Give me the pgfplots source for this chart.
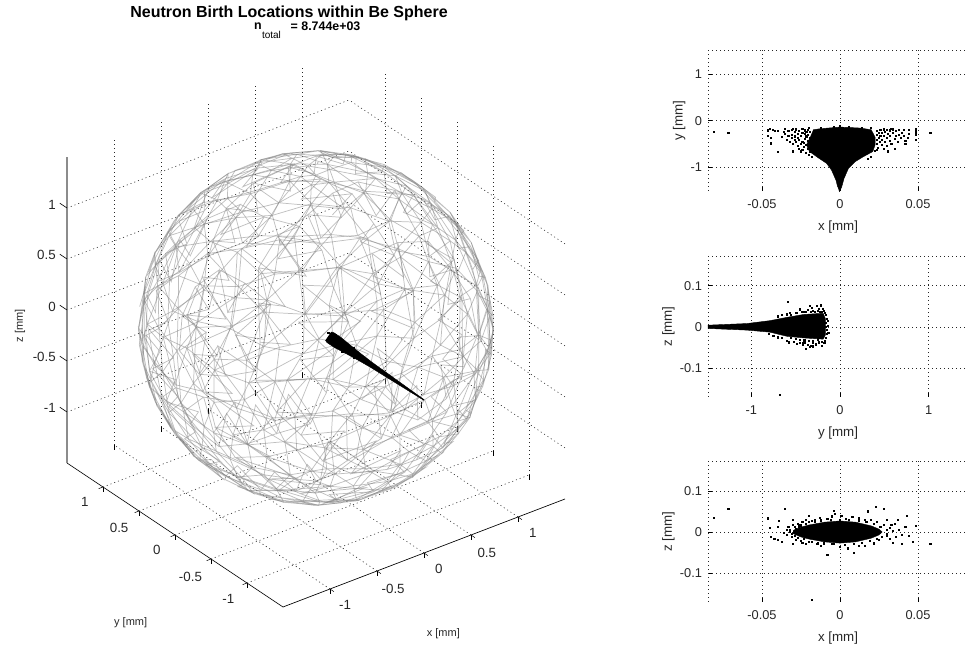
\documentclass[border=0pt]{standalone}
\usepackage{pgfplots}
\usepackage{pgfplotstable}
\usepackage{fontspec}
\setmainfont{Liberation Sans}
\pgfplotsset{compat=1.18}
\pgfplotstableset{row sep=\\,header=false}
\pgfplotstableread{0 90\\5 84\\0 90\\75 83\\0 90\\150 85\\0 90\\218 84\\0 90\\290 83\\5 84\\75 83\\150 85\\218 84\\290 83\\}\Tcap
\pgfplotstableread{5 84\\334 70\\5 84\\10 73\\5 84\\46 71\\75 83\\80 73\\75 83\\118 74\\150 85\\155 71\\150 85\\190 72\\218 84\\226 74\\218 84\\262 71\\290 83\\298 73\\290 83\\334 70\\10 73\\46 71\\80 73\\118 74\\155 71\\190 72\\226 74\\262 71\\298 73\\334 70\\}\Tone
\pgfplotstableread{2 60\\10 73\\27 62\\46 71\\50 58\\75 61\\80 73\\98 62\\118 74\\122 58\\147 60\\155 71\\170 62\\190 72\\195 58\\218 61\\226 74\\243 62\\262 71\\266 58\\290 60\\298 73\\315 62\\334 70\\338 58\\2 60\\27 62\\50 58\\75 61\\98 62\\122 58\\147 60\\170 62\\195 58\\218 61\\243 62\\266 58\\290 60\\315 62\\338 58\\2 60\\}\Ttwo
\pgfplotstableread{8 47\\27 62\\27 50\\50 58\\44 46\\62 49\\75 61\\81 50\\98 62\\98 46\\122 58\\116 48\\135 50\\147 60\\152 46\\170 62\\170 48\\195 58\\189 50\\206 46\\218 61\\224 49\\243 62\\243 50\\266 58\\260 46\\278 48\\290 60\\297 50\\315 62\\314 46\\338 58\\332 49\\351 47\\2 60\\8 47\\27 50\\44 46\\62 49\\81 50\\98 46\\116 48\\135 50\\152 46\\170 48\\189 50\\206 46\\224 49\\243 50\\260 46\\278 48\\297 50\\314 46\\332 49\\351 47\\8 47\\}\Tthree
\pgfplotstableread{3 36\\8 47\\18 38\\27 50\\32 34\\44 46\\48 37\\62 49\\63 38\\81 50\\78 34\\92 36\\98 46\\108 38\\116 48\\123 35\\135 50\\138 34\\152 46\\152 37\\170 48\\168 38\\183 34\\189 50\\198 36\\206 46\\212 38\\224 49\\228 35\\243 50\\243 34\\260 46\\258 37\\272 38\\278 48\\288 34\\297 50\\303 36\\314 46\\318 38\\332 49\\332 35\\351 47\\347 34\\3 36\\18 38\\32 34\\48 37\\63 38\\78 34\\92 36\\108 38\\123 35\\138 34\\152 37\\168 38\\183 34\\198 36\\212 38\\228 35\\243 34\\258 37\\272 38\\288 34\\303 36\\318 38\\332 35\\347 34\\3 36\\}\Tfour
\pgfplotstableread{3 36\\7 24\\18 38\\20 26\\32 34\\35 22\\48 37\\48 25\\63 38\\62 26\\78 34\\76 22\\92 36\\90 24\\108 38\\103 26\\123 35\\117 23\\131 22\\138 34\\145 25\\152 37\\159 26\\168 38\\172 22\\183 34\\186 24\\198 36\\200 26\\212 38\\214 23\\228 35\\228 22\\243 34\\241 25\\258 37\\255 26\\272 38\\269 22\\288 34\\283 24\\303 36\\297 26\\311 23\\318 38\\324 22\\332 35\\338 25\\347 34\\352 26\\7 24\\20 26\\35 22\\48 25\\62 26\\76 22\\90 24\\103 26\\117 23\\131 22\\145 25\\159 26\\172 22\\186 24\\200 26\\214 23\\228 22\\241 25\\255 26\\269 22\\283 24\\297 26\\311 23\\324 22\\338 25\\352 26\\7 24\\}\Tfive
\pgfplotstableread{2 12\\7 24\\15 14\\20 26\\28 10\\35 22\\41 13\\48 25\\54 14\\62 26\\67 10\\76 22\\80 12\\90 24\\93 14\\103 26\\106 11\\117 23\\119 10\\131 22\\132 13\\145 25\\145 14\\159 26\\158 10\\172 22\\171 12\\186 24\\184 14\\200 26\\197 11\\214 23\\210 10\\228 22\\223 13\\241 25\\236 14\\255 26\\249 10\\269 22\\262 12\\275 14\\283 24\\288 11\\297 26\\301 10\\311 23\\314 13\\324 22\\327 14\\338 25\\340 10\\352 26\\353 12\\2 12\\15 14\\28 10\\41 13\\54 14\\67 10\\80 12\\93 14\\106 11\\119 10\\132 13\\145 14\\158 10\\171 12\\184 14\\197 11\\210 10\\223 13\\236 14\\249 10\\262 12\\275 14\\288 11\\301 10\\314 13\\327 14\\340 10\\353 12\\}\Tsix
\pgfplotstableread{0 0\\2 12\\13 1\\15 14\\26 -1\\28 10\\39 2\\41 13\\51 0\\54 14\\64 -2\\67 10\\77 1\\80 12\\90 0\\93 14\\103 -1\\106 11\\116 2\\119 10\\129 0\\132 13\\141 -2\\145 14\\154 1\\158 10\\167 0\\171 12\\180 -1\\184 14\\193 2\\197 11\\206 0\\210 10\\219 -2\\223 13\\231 1\\236 14\\244 0\\249 10\\257 -1\\262 12\\270 2\\275 14\\283 0\\288 11\\296 -2\\301 10\\309 1\\314 13\\321 0\\327 14\\334 -1\\340 10\\347 2\\353 12\\0 0\\13 1\\26 -1\\39 2\\51 0\\64 -2\\77 1\\90 0\\103 -1\\116 2\\129 0\\141 -2\\154 1\\167 0\\180 -1\\193 2\\206 0\\219 -2\\231 1\\244 0\\257 -1\\270 2\\283 0\\296 -2\\309 1\\321 0\\334 -1\\347 2\\0 0\\}\Tseven
\tikzset{gridl/.style={black!85,line width=0.42pt,dash pattern=on 0.8pt off 2.2pt}}
\pgfplotsset{
  meshl/.style={black!50,opacity=0.5,line width=0.55pt,no marks,forget plot},
  small2d/.style={scale only axis,width=195pt,height=105.5pt,anchor=south west,
    axis x line*=bottom,axis y line*=left,axis line style={-},
    x axis line style={draw=none},y axis line style={gridl},
    grid=major,grid style={gridl},clip=false,scaled x ticks=false,scaled y ticks=false,
    tick align=inside,major tick length=3pt,tick style={black,line width=0.4pt},
    tick label style={font=\fontsize{9.6}{12}\selectfont,text=black!85},
    label style={font=\fontsize{10}{12}\selectfont,text=black!85},
    xticklabel style={yshift=-3pt},yticklabel style={xshift=-1pt},
    xlabel style={yshift=-2.5pt},ylabel style={yshift=-3pt},
    /pgf/number format/assume math mode=true},
  pts/.style={only marks,mark=square*,mark size=0.42pt,mark options={black,draw=black,line width=0pt},forget plot},
  blob/.style={fill=black,draw=black,line width=0.3pt,forget plot},
  ztk/.style={black,line width=0.45pt,forget plot}
}
\newcommand\north[1]{\addplot3[meshl] table[x index=0,y index=1,z index=0,x expr={1.5*cos(\thisrowno{1})*cos(\thisrowno{0})},y expr={1.5*cos(\thisrowno{1})*sin(\thisrowno{0})},z expr={1.5*sin(\thisrowno{1})}] {#1};}
\newcommand\south[1]{\addplot3[meshl] table[x index=0,y index=1,z index=0,x expr={1.5*cos(\thisrowno{1})*cos(\thisrowno{0}+64.3)},y expr={1.5*cos(\thisrowno{1})*sin(\thisrowno{0}+64.3)},z expr={-1.5*sin(\thisrowno{1})}] {#1};}
% the same rings of vertices, seen with the pole tilted by 65 degrees
\newcommand\tiltN[1]{\addplot3[meshl] table[x index=0,y index=1,z index=0,x expr={1.5*cos(\thisrowno{1})*cos(\thisrowno{0})},y expr={1.5*(0.4226*cos(\thisrowno{1})*sin(\thisrowno{0})-0.9063*sin(\thisrowno{1}))},z expr={1.5*(0.9063*cos(\thisrowno{1})*sin(\thisrowno{0})+0.4226*sin(\thisrowno{1}))}] {#1};}
\newcommand\tiltS[1]{\addplot3[meshl] table[x index=0,y index=1,z index=0,x expr={1.5*cos(\thisrowno{1})*cos(\thisrowno{0}+31)},y expr={1.5*(0.4226*cos(\thisrowno{1})*sin(\thisrowno{0}+31)+0.9063*sin(\thisrowno{1}))},z expr={1.5*(0.9063*cos(\thisrowno{1})*sin(\thisrowno{0}+31)-0.4226*sin(\thisrowno{1}))}] {#1};}
\begin{document}
\begin{tikzpicture}
\path[use as bounding box] (0,0) rectangle (726pt,484.5pt);
\begin{axis}[at={(237pt,238.5pt)},anchor=origin,
  x={(70.5pt,27pt)},y={(-54pt,36pt)},z={(0pt,76.5pt)},
  xmin=-1.5,xmax=1.5,ymin=-1.5,ymax=1.5,zmin=-1.5,zmax=1.5,
  xtick={-1,-0.5,0,0.5,1},ytick={-1,-0.5,0,0.5,1},ztick={-1,-0.5,0,0.5,1},
  xticklabels={-1,-0.5,0,0.5,1},yticklabels={-1,-0.5,0,0.5,1},zticklabels={-1,-0.5,0,0.5,1},
  grid=major,grid style={gridl},axis line style={draw=none},clip=false,
  tick pos=left,tick align=outside,major tick length=3.5pt,tick style={black,line width=0.4pt},
  ztick style={draw=none},
  tick label style={font=\fontsize{10}{12}\selectfont,text=black!85},
  xticklabel style={xshift=4pt,yshift=-2pt},yticklabel style={xshift=-5pt,yshift=-2pt},zticklabel style={xshift=-2pt},
  /pgf/number format/assume math mode=true]
\addplot3[black,line width=0.5pt,forget plot] coordinates {(-1.5,-1.5,-1.5)(1.5,-1.5,-1.5)};
\addplot3[black,line width=0.5pt,forget plot] coordinates {(-1.5,-1.5,-1.5)(-1.5,1.5,-1.5)};
\addplot3[black!45,line width=1pt,forget plot] coordinates {(-1.5,1.5,-1.5)(-1.5,1.5,1.5)};
\addplot3[ztk] coordinates {(-1.5,1.5,-1)(-1.5,1.6,-1)};
\addplot3[ztk] coordinates {(-1.5,1.5,-0.5)(-1.5,1.6,-0.5)};
\addplot3[ztk] coordinates {(-1.5,1.5,0)(-1.5,1.6,0)};
\addplot3[ztk] coordinates {(-1.5,1.5,0.5)(-1.5,1.6,0.5)};
\addplot3[ztk] coordinates {(-1.5,1.5,1)(-1.5,1.6,1)};
\north{\Tcap}\north{\Tone}\north{\Ttwo}\north{\Tthree}\north{\Tfour}\north{\Tfive}\north{\Tsix}\north{\Tseven}
\south{\Tcap}\south{\Tone}\south{\Ttwo}\south{\Tthree}\south{\Tfour}\south{\Tfive}\south{\Tsix}\south{\Tseven}
\tiltN{\Ttwo}\tiltN{\Tfour}\tiltN{\Tsix}\tiltS{\Tone}\tiltS{\Tthree}\tiltS{\Tfive}\tiltS{\Tseven}
\addplot3[blob] coordinates {(0.03,-0.17,0.03)(0.036,-0.2,0.036)(0.036,-0.3,0.036)(0.028,-0.45,0.028)(0.021,-0.6,0.021)(0.015,-0.77,0.015)(0.011,-1,0.011)(0.0075,-1.2,0.0075)(0.002,-1.5,0.002)(-0.002,-1.5,-0.002)(-0.0075,-1.2,-0.0075)(-0.011,-1,-0.011)(-0.015,-0.77,-0.015)(-0.021,-0.6,-0.021)(-0.028,-0.45,-0.028)(-0.036,-0.3,-0.036)(-0.036,-0.2,-0.036)(-0.03,-0.17,-0.03)};
\addplot3[pts] coordinates {(-0.02,-0.2,0.05)(0.02,-0.22,-0.05)(-0.03,-0.3,0.03)(0.03,-0.35,-0.03)(0.025,-0.25,0.04)(-0.025,-0.4,-0.035)(0.02,-0.5,0.03)(-0.02,-0.55,-0.03)(-0.03,-0.2,-0.02)(0.035,-0.2,0.02)};
\end{axis}
\node[font=\fontsize{8.25}{10}\selectfont,text=black!85] at (332.5pt,9.5pt) {x [mm]};
\node[font=\fontsize{8.25}{10}\selectfont,text=black!85] at (98pt,17.5pt) {y [mm]};
\node[font=\fontsize{8.25}{10}\selectfont,text=black!85,rotate=90] at (15pt,240pt) {z [mm]};
\node[font=\bfseries\fontsize{12}{14}\selectfont] at (216.75pt,474.5pt) {Neutron Birth Locations within Be Sphere};
\node[font=\bfseries\fontsize{9.3}{10}\selectfont,anchor=west] at (187pt,464.5pt) {n};
\node[font=\fontsize{7.5}{8}\selectfont,anchor=west] at (193pt,458pt) {total};
\node[font=\bfseries\fontsize{9.3}{10}\selectfont,anchor=west] at (214.5pt,464.5pt) {= 8.744e+03};
% x-y
\begin{axis}[small2d,at={(531pt,341.25pt)},xmin=-0.0846,xmax=0.08205,ymin=-1.505,ymax=1.505,
  xtick={-0.05,0,0.05},xticklabels={-0.05,0,0.05},ytick={-1,0,1},yticklabels={-1,0,1},
  xlabel={x [mm]},ylabel={y [mm]}]
\addplot[gridl,forget plot] coordinates {(-0.0846,1.505)(0.08205,1.505)};
\addplot[blob] coordinates {(-0.0004,-1.525)(0.0011,-1.417)(0.0026,-1.237)(0.0054,-1.022)(0.0097,-0.878)(0.015,-0.77)(0.021,-0.662)(0.0225,-0.518)(0.0225,-0.353)(0.02,-0.194)(0.0129,-0.158)(0,-0.137)(-0.0129,-0.173)(-0.017,-0.194)(-0.019,-0.353)(-0.0215,-0.518)(-0.0195,-0.662)(-0.015,-0.77)(-0.0086,-0.914)(-0.0054,-1.058)(-0.0026,-1.273)(-0.0015,-1.417)};
\addplot[pts] coordinates {(-0.0805,-0.24)(-0.0715,-0.26)(0.058,-0.26)(0.049,-0.17)(0.049,-0.22)(0.049,-0.31)(0.049,-0.42)(0.0485,-0.27)(-0.046,-0.21)(-0.045,-0.18)(-0.043,-0.2)(-0.0415,-0.23)(-0.0395,-0.22)(-0.046,-0.33)(-0.044,-0.37)(-0.044,-0.49)(-0.04,-0.68)
(-0.036,-0.24)(-0.035,-0.28)(-0.037,-0.35)(-0.033,-0.22)(-0.033,-0.33)(-0.034,-0.41)(-0.031,-0.2)(-0.031,-0.3)(-0.031,-0.38)(-0.032,-0.45)(-0.03,-0.5)(-0.03,-0.66)(-0.029,-0.25)(-0.029,-0.34)(-0.029,-0.42)(-0.028,-0.19)(-0.028,-0.46)(-0.027,-0.29)(-0.027,-0.37)(-0.027,-0.55)(-0.026,-0.22)(-0.026,-0.41)(-0.026,-0.6)(-0.025,-0.32)(-0.025,-0.5)(-0.024,-0.18)(-0.024,-0.27)(-0.024,-0.45)(-0.024,-0.63)(-0.023,-0.57)(-0.025,-0.66)(-0.022,-0.7)
(0.026,-0.2)(0.027,-0.27)(0.027,-0.41)(0.027,-0.52)(0.028,-0.19)(0.028,-0.33)(0.028,-0.6)(0.029,-0.24)(0.029,-0.46)(0.03,-0.2)(0.03,-0.37)(0.03,-0.55)(0.031,-0.28)(0.031,-0.66)(0.032,-0.21)(0.032,-0.33)(0.032,-0.44)(0.033,-0.5)(0.034,-0.19)(0.034,-0.27)(0.035,-0.39)(0.035,-0.6)(0.036,-0.23)(0.036,-0.33)(0.037,-0.46)(0.038,-0.2)(0.038,-0.3)(0.039,-0.37)(0.04,-0.26)(0.041,-0.2)(0.041,-0.33)(0.042,-0.43)(0.044,-0.2)(0.044,-0.29)(0.0435,-0.37)(0.042,-0.5)(0.018,-0.82)(0.02,-0.78)(-0.018,-0.78)(-0.02,-0.74)(0,-0.12)(-0.004,-0.14)(0.006,-0.14)(-0.012,-0.15)(0.014,-0.15)(0.02,-0.16)(-0.02,-0.16)(-0.03,-0.17)(-0.035,-0.18)(0.033,-0.17)
(-0.0225,-0.21)(-0.0225,-0.29)(-0.0225,-0.4)(-0.023,-0.48)(-0.0215,-0.25)(-0.0215,-0.34)(-0.0215,-0.53)(-0.0205,-0.2)(-0.0205,-0.3)(-0.0205,-0.44)(-0.0205,-0.6)(-0.0195,-0.66)(-0.0195,-0.24)(-0.0195,-0.38)(0.0235,-0.22)(0.0235,-0.31)(0.024,-0.42)(0.024,-0.5)(0.025,-0.26)(0.025,-0.37)(0.0245,-0.58)(0.0255,-0.46)(0.026,-0.33)(0.0225,-0.65)(0.0235,-0.62)(0.0255,-0.2)};
\end{axis}
% y-z
\begin{axis}[small2d,at={(531pt,187pt)},xmin=-1.488,xmax=1.443,ymin=-0.1699,ymax=0.1723,
  xtick={-1,0,1},xticklabels={-1,0,1},ytick={-0.1,0,0.1},yticklabels={-0.1,0,0.1},
  xlabel={y [mm]},ylabel={z [mm]}]
\addplot[gridl,forget plot] coordinates {(-1.488,0.1723)(1.443,0.1723)};
\addplot[blob] coordinates {(-1.49,0.004)(-1.05,0.008)(-0.79,0.015)(-0.6,0.023)(-0.41,0.03)(-0.19,0.033)(-0.165,0.02)(-0.165,-0.02)(-0.19,-0.03)(-0.41,-0.027)(-0.6,-0.023)(-0.79,-0.013)(-1.05,-0.008)(-1.49,-0.004)};
\addplot[pts] coordinates {(-0.68,-0.165)(-0.59,0.06)(-0.34,-0.05)(-0.3,-0.048)(-0.42,-0.04)(-0.38,-0.055)(-0.6,0.03)(-0.56,0.034)(-0.7,0.025)(-0.65,0.028)(-0.5,0.033)(-0.45,0.042)(-0.4,0.036)(-0.36,0.04)(-0.34,0.05)(-0.32,0.045)(-0.3,0.038)(-0.26,0.05)(-0.24,0.043)(-0.21,0.052)(-0.19,0.044)(-0.17,0.033)(-0.2,0.035)(-0.15,0.02)(-0.16,0.01)(-0.14,0.003)(-0.13,-0.015)(-0.15,-0.008)(-0.16,-0.028)(-0.17,-0.04)(-0.16,0)(-0.8,-0.018)(-0.75,-0.022)(-0.7,-0.026)(-0.65,-0.028)(-0.6,-0.034)(-0.57,-0.038)(-0.52,-0.036)(-0.48,-0.042)(-0.45,-0.04)(-0.42,-0.045)(-0.4,-0.038)(-0.36,-0.044)(-0.33,-0.046)(-0.3,-0.04)(-0.27,-0.043)(-0.24,-0.038)(-0.2,-0.046)(-0.18,-0.04)
(-0.55,0.028)(-0.48,0.034)(-0.43,0.036)(-0.38,0.035)(-0.33,0.037)(-0.28,0.036)(-0.25,0.038)(-0.22,0.036)(-0.18,0.038)(-0.16,0.028)(-0.14,0.014)(-0.15,-0.018)(-0.17,-0.034)(-0.2,-0.036)(-0.25,-0.033)(-0.3,-0.034)(-0.35,-0.035)(-0.4,-0.032)(-0.45,-0.033)(-0.5,-0.03)(-0.55,-0.028)};
\end{axis}
% x-z
\begin{axis}[small2d,at={(531pt,33.2pt)},xmin=-0.0846,xmax=0.08205,ymin=-0.1699,ymax=0.173,
  xtick={-0.05,0,0.05},xticklabels={-0.05,0,0.05},ytick={-0.1,0,0.1},yticklabels={-0.1,0,0.1},
  xlabel={x [mm]},ylabel={z [mm]}]
\addplot[gridl,forget plot] coordinates {(-0.0846,0.173)(0.08205,0.173)};
\addplot[blob] coordinates {(-0.03,0.004)(-0.025,0.012)(-0.02,0.017)(-0.01,0.024)(0,0.027)(0.01,0.024)(0.02,0.015)(0.025,0.007)(0.027,0)(0.025,-0.007)(0.02,-0.015)(0.01,-0.024)(0,-0.027)(-0.01,-0.024)(-0.02,-0.017)(-0.025,-0.012)(-0.03,-0.004)};
\addplot[pts] coordinates {(-0.0805,0.035)(-0.0715,0.056)(0.058,-0.03)(-0.018,-0.165)(-0.035,0.056)(-0.046,0.033)(0.0485,0.015)(0.047,-0.025)(-0.0445,-0.012)(-0.045,0.01)(-0.042,-0.018)(-0.04,-0.02)(-0.04,0.012)(-0.039,0.027)(-0.036,-0.002)(-0.037,-0.025)(-0.03,0.03)(-0.033,0.012)(-0.032,0)(-0.031,-0.012)(-0.03,-0.03)(-0.025,-0.022)(-0.03,0.018)(-0.028,0.008)(-0.027,-0.014)(-0.026,0.017)(-0.024,0.024)(-0.022,0.03)(-0.024,-0.026)(-0.022,-0.03)(-0.02,-0.024)(-0.02,0.04)(-0.018,0.026)(-0.016,0.03)(-0.015,-0.03)(-0.012,-0.033)(-0.013,0.034)(-0.008,0.032)(-0.008,-0.055)(-0.005,0.038)(-0.004,-0.03)(-0.004,0.052)(-0.003,0.045)(0,-0.036)(0.001,0.04)(0.004,0.032)(0.005,-0.04)(0.009,-0.052)(0.008,0.036)(0.012,0.033)(0.012,-0.033)(0.016,0.03)(0.016,-0.035)(0.018,0.05)(0.02,0.03)(0.022,-0.028)(0.023,0.06)(0.024,0.024)(0.025,-0.02)(0.028,0.056)(0.028,0.018)(0.03,-0.01)(0.03,0.03)(0.032,0.01)(0.034,-0.026)(0.035,0.02)(0.036,-0.012)(0.037,0.03)(0.038,0.005)(0.04,-0.03)(0.04,-0.008)(0.042,0.012)(0.043,0.04)(0.044,-0.01)
(-0.034,0.006)(-0.034,-0.008)(-0.032,0.004)(-0.031,-0.004)(-0.029,0.012)(-0.029,-0.01)(-0.028,-0.02)(-0.027,0.02)(-0.026,0.012)(-0.025,0.016)(-0.023,-0.018)(-0.022,0.02)(-0.02,0.024)(-0.018,-0.024)(-0.016,0.024)(-0.014,-0.028)(-0.012,0.028)(-0.01,-0.028)(-0.006,0.03)(-0.005,-0.03)(0,0.03)(0.003,-0.031)(0.006,0.03)(0.009,-0.03)(0.012,0.027)(0.014,-0.027)(0.017,0.024)(0.019,-0.022)(0.022,0.02)(0.024,-0.016)(0.026,0.013)(0.027,-0.012)(0.03,0.006)(0.03,-0.004)(0.032,-0.016)(0.033,0.017)(0.034,0.002)};
\end{axis}
\end{tikzpicture}
\end{document}
